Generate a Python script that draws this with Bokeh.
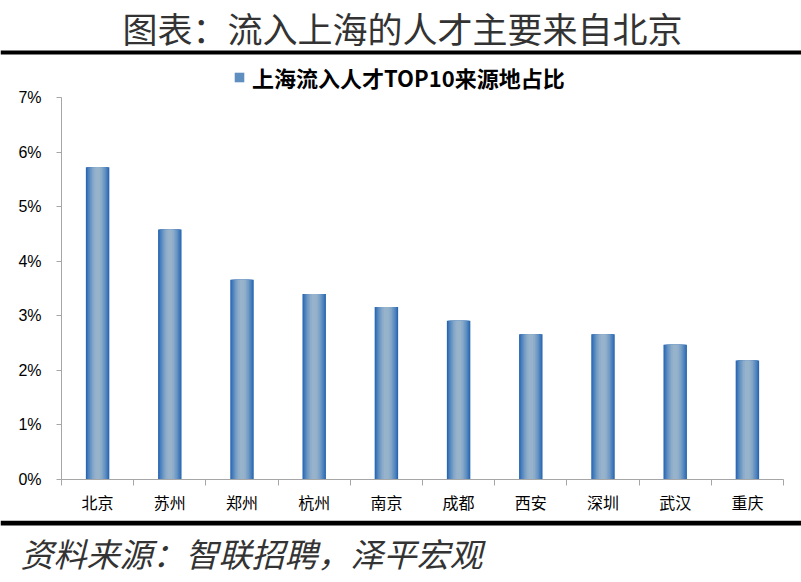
from bokeh.plotting import figure
from bokeh.models import (ColumnDataSource, FixedTicker, NumeralTickFormatter, Range1d,
                          Legend, LegendItem)
from bokeh.layouts import column
from bokeh.embed import file_html
from bokeh.resources import INLINE
from bokeh.core.properties import value

# ---------------- data ----------------
categories = ["北京", "苏州", "郑州", "杭州", "南京", "成都", "西安", "深圳", "武汉", "重庆"]
shares = [0.0572, 0.0458, 0.0366, 0.0340, 0.0316, 0.0291, 0.0266, 0.0266, 0.0247, 0.0218]
series_name = "上海流入人才TOP10来源地占比"
title_text = "图表：流入上海的人才主要来自北京"
source_text = "资料来源：智联招聘，泽平宏观"
y_ticks = [0, 0.01, 0.02, 0.03, 0.04, 0.05, 0.06, 0.07]

W = 785
WB = 801
CJK = "Noto Sans CJK SC"

# ---------------- top: title + black rule ----------------
top = figure(width=WB, height=55, x_range=Range1d(0, WB), y_range=Range1d(0, 55),
             output_backend="svg", toolbar_location=None, min_border=0,
             x_axis_location=None, y_axis_location=None, outline_line_color=None)
top.frame_align = False
top.grid.visible = False
top.text(x=[402], y=[28], text=[title_text], text_font=value(CJK), text_font_size="35px",
         text_align="center", text_baseline="middle", text_color="#333333")
top.quad(left=[0], right=[WB], bottom=[1], top=[5], fill_color="black", line_color=None)

# ---------------- main chart ----------------
xs = [i + 0.5 for i in range(len(categories))]
src = ColumnDataSource(dict(x=xs, top=shares))

# frame extends above 7% to hold the legend; the axis line stops at 7% (bounds)
p = figure(width=W, height=465, x_range=Range1d(0, len(categories)), y_range=Range1d(0, 0.0764),
           output_backend="svg", toolbar_location=None,
           min_border_left=61, min_border_right=2, min_border_top=7, min_border_bottom=41,
           outline_line_color=None)
p.frame_align = False
p.grid.visible = False

layer_colors = ["#2A67B0", "#3B75B8", "#4D82BD", "#5F8EC1", "#7099C4", "#80A4C7", "#8DADCA", "#97B3CC"]
layer_widths = [0.325, 0.295, 0.265, 0.23, 0.195, 0.155, 0.115, 0.065]
renderers = []
for c, w in zip(layer_colors, layer_widths):
    r = p.vbar(x="x", top="top", width=w, bottom=0, source=src, fill_color=c, line_color=None)
    renderers.append(r)

legend = Legend(items=[LegendItem(label=series_name, renderers=[renderers[3]])],
                location=(172, 386), orientation="horizontal",
                glyph_width=12, glyph_height=12, label_standoff=7,
                padding=0, margin=0, border_line_color=None, background_fill_alpha=0,
                label_text_font=CJK, label_text_font_size="22px", label_text_font_style="bold",
                label_text_color="black")
p.add_layout(legend, "center")

# y axis
ya = p.yaxis[0]
ya.ticker = FixedTicker(ticks=y_ticks, minor_ticks=[])
ya.bounds = (0, 0.07)
ya.formatter = NumeralTickFormatter(format="0%")
ya.axis_line_color = "#A6A6A6"
ya.major_tick_line_color = "#A6A6A6"
ya.major_tick_in = 0
ya.major_tick_out = 5
ya.minor_tick_line_color = None
ya.major_label_standoff = 15
ya.major_label_text_font = "Liberation Sans"
ya.major_label_text_font_size = "16px"
ya.major_label_text_color = "black"

# x axis: labels at bar centres, tick marks between categories
xa = p.xaxis[0]
xa.ticker = FixedTicker(ticks=xs, minor_ticks=list(range(len(categories) + 1)))
xa.major_label_overrides = {x: c for x, c in zip(xs, categories)}
xa.axis_line_color = "#A6A6A6"
xa.major_tick_line_color = None
xa.major_tick_in = 0
xa.major_tick_out = 0
xa.minor_tick_line_color = "#A6A6A6"
xa.minor_tick_in = 0
xa.minor_tick_out = 6
xa.major_label_standoff = 4
xa.major_label_text_font = CJK
xa.major_label_text_font_size = "16px"
xa.major_label_text_color = "black"

# ---------------- bottom: black rule + source ----------------
bot = figure(width=WB, height=60, x_range=Range1d(0, WB), y_range=Range1d(0, 60),
             output_backend="svg", toolbar_location=None, min_border=0,
             x_axis_location=None, y_axis_location=None, outline_line_color=None)
bot.frame_align = False
bot.grid.visible = False
bot.quad(left=[0], right=[WB], bottom=[55], top=[60], fill_color="black", line_color=None)
bot.text(x=[20], y=[28], text=[source_text], text_font=value(CJK), text_font_size="33px",
         text_font_style="italic", text_align="left", text_baseline="middle", text_color="#333333")

layout = column(top, p, bot, spacing=0)
open("out.html", "w").write(file_html(layout, INLINE))
